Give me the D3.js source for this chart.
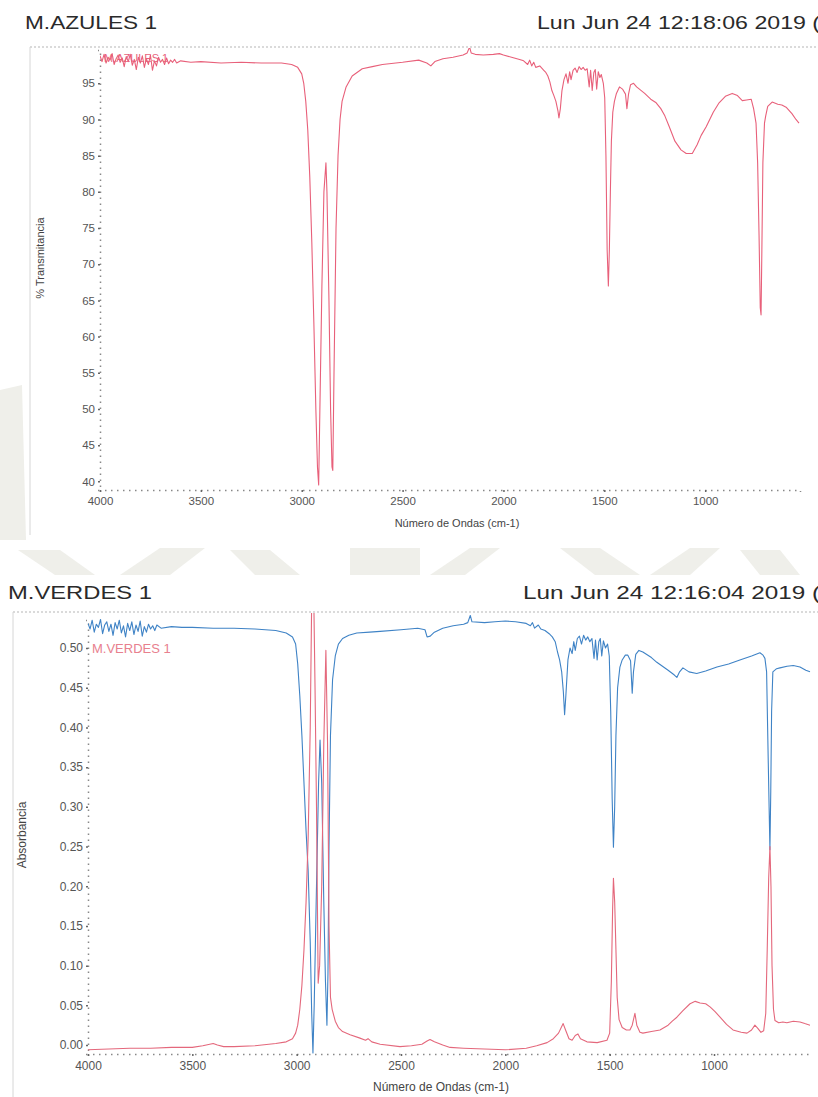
<!DOCTYPE html>
<html><head><meta charset="utf-8">
<script src="https://cdn.jsdelivr.net/npm/d3@7"></script>
<style>body{margin:0;background:#fff}svg{display:block}text{font-family:"Liberation Sans",Arial,sans-serif}</style>
</head><body><svg id="c" width="818" height="1097"></svg>
<script>
// ---------- DATA ----------
const topTitle = "M.AZULES 1";
const topDate = "Lun Jun 24 12:18:06 2019 (";
const botTitle = "M.VERDES 1";
const botDate = "Lun Jun 24 12:16:04 2019 (";
const xTicks = [4000, 3500, 3000, 2500, 2000, 1500, 1000];
const topYTicks = [40, 45, 50, 55, 60, 65, 70, 75, 80, 85, 90, 95];
const botYTicks = [0.00, 0.05, 0.10, 0.15, 0.20, 0.25, 0.30, 0.35, 0.40, 0.45, 0.50];

// M.AZULES 1 : % transmittance
const azulesWn = [4000,3990,3980,3970,3960,3950,3940,3930,3920,3910,3900,3890,3880,3870,3860,3850,3840,3830,3820,3810,3800,3790,3780,3770,3760,3750,3740,3730,3720,3710,3700,3690,3680,3670,3660,3650,3640,3630,3620,3600,3550,3500,3400,3300,3200,3100,3050,3020,3000,2990,2980,2970,2960,2950,2940,2930,2922,2916,2910,2900,2890,2880,2875,2865,2857,2850,2846,2840,2830,2820,2810,2800,2780,2750,2700,2650,2600,2500,2420,2380,2360,2340,2300,2250,2200,2180,2168,2160,2140,2100,2050,2020,2000,1960,1920,1900,1880,1870,1860,1850,1840,1820,1800,1790,1780,1770,1760,1750,1740,1730,1725,1718,1710,1700,1690,1680,1672,1665,1655,1645,1635,1625,1615,1605,1595,1585,1575,1568,1560,1552,1545,1538,1530,1522,1515,1505,1498,1492,1486,1480,1475,1470,1465,1458,1450,1440,1425,1410,1395,1388,1380,1370,1355,1340,1300,1270,1243,1220,1200,1178,1150,1120,1094,1064,1040,1020,995,960,931,900,866,840,816,795,772,760,748,740,733,727,723,719,714,706,700,690,668,640,620,599,570,550,535];
const azulesT = [98.8,98.0,99.0,97.8,98.6,98.2,99.1,97.6,98.4,98.9,97.9,98.5,97.3,98.7,98.0,99.0,97.5,98.3,96.9,98.6,97.8,98.8,97.2,98.4,97.6,98.9,96.8,98.1,97.4,98.6,97.9,98.3,97.6,98.5,97.7,98.2,97.9,98.3,97.8,98.1,97.9,98.0,97.8,97.9,97.8,97.8,97.6,97.2,96.3,95.0,92.5,88.5,82,73,62,50,42,39.5,50,67,80,84,80,65,50,42,41.5,55,75,85,90,92.5,94.5,96,97,97.3,97.6,97.9,98.2,97.8,97.4,98.0,98.4,98.6,98.9,99.2,100.0,99.2,99.0,98.9,99.0,99.1,98.9,98.6,98.3,98.1,97.6,98.2,97.4,97.9,97.2,97.4,96.8,96.5,96.0,95.2,94.0,93.3,92.5,91.2,90.2,91.5,94.0,95.5,96.3,95.0,96.6,95.5,96.8,97.1,96.5,97.3,96.9,97.2,96.8,97.0,94.5,96.8,94.0,96.5,96.9,94.2,96.6,95.8,96.2,95.0,93,85,72,67,72,80,87,91,92.5,93.6,94.5,94.2,93.5,91.5,93.5,94.8,95,94.5,93.6,92.8,92.3,91.5,90.5,89,87,85.8,85.3,85.3,86.5,87.8,89.0,91,92.3,93.2,93.6,93.3,92.6,92.7,92.8,91.5,89.5,84,74,64,63,72,84,89.5,90.5,91.8,92.4,92.1,92.0,91.7,90.8,90.0,89.5];

// M.VERDES 1 : absorbance (red)
const verdesWn = [4000,3900,3800,3700,3600,3500,3450,3400,3380,3350,3300,3200,3100,3050,3020,3005,2995,2985,2975,2965,2955,2945,2935,2928,2920,2912,2905,2897,2890,2880,2870,2860,2852,2845,2838,2830,2815,2800,2780,2744,2700,2670,2658,2640,2600,2505,2450,2400,2375,2361,2340,2300,2265,2200,2100,2000,1900,1850,1800,1770,1745,1723,1710,1695,1680,1665,1652,1640,1609,1560,1513,1500,1492,1486,1482,1476,1470,1464,1455,1440,1420,1403,1392,1379,1370,1355,1341,1300,1259,1220,1200,1178,1150,1115,1090,1067,1040,1019,995,971,940,909,870,842,820,804,790,775,762,752,745,738,732,727,722,715,708,690,670,651,620,588,565,540];
const verdesAbs = [-0.006,-0.005,-0.004,-0.004,-0.003,-0.003,-0.001,0.002,0.000,-0.002,-0.002,-0.001,0.002,0.004,0.008,0.015,0.025,0.045,0.075,0.12,0.18,0.26,0.40,0.56,0.60,0.45,0.30,0.078,0.10,0.2,0.38,0.497,0.38,0.15,0.06,0.045,0.03,0.022,0.017,0.013,0.009,0.006,0.008,0.004,0.001,-0.002,-0.001,0.001,0.005,0.007,0.004,0.000,-0.003,-0.004,-0.005,-0.006,-0.004,-0.001,0.003,0.008,0.015,0.027,0.018,0.008,0.006,0.012,0.014,0.008,0.004,0.003,0.006,0.015,0.08,0.17,0.21,0.18,0.12,0.06,0.032,0.022,0.019,0.019,0.025,0.040,0.025,0.016,0.015,0.017,0.019,0.025,0.030,0.035,0.043,0.052,0.055,0.053,0.052,0.048,0.042,0.035,0.026,0.019,0.016,0.015,0.019,0.025,0.021,0.016,0.018,0.04,0.12,0.21,0.25,0.20,0.10,0.045,0.031,0.028,0.029,0.028,0.030,0.029,0.027,0.025];

// M.VERDES 1 : second trace (blue), same axis units
const blueWn = [4000,3990,3980,3970,3960,3950,3940,3930,3920,3910,3900,3890,3880,3870,3860,3850,3840,3830,3820,3810,3800,3790,3780,3770,3760,3750,3740,3730,3720,3710,3700,3690,3680,3670,3650,3600,3550,3500,3400,3300,3200,3100,3050,3020,3005,2995,2985,2975,2965,2955,2945,2935,2928,2922,2916,2905,2895,2888,2880,2870,2862,2855,2850,2845,2838,2828,2815,2800,2780,2750,2712,2650,2600,2500,2420,2385,2375,2360,2340,2300,2250,2200,2180,2168,2160,2100,2050,2000,1951,1900,1880,1870,1860,1842,1830,1810,1790,1775,1761,1750,1740,1730,1722,1716,1710,1700,1690,1680,1672,1665,1655,1645,1635,1625,1615,1605,1595,1585,1575,1568,1560,1552,1545,1538,1530,1520,1510,1502,1495,1488,1482,1476,1470,1462,1451,1440,1425,1413,1400,1392,1386,1375,1360,1341,1300,1274,1220,1190,1178,1165,1149,1120,1083,1040,986,930,876,820,780,765,756,748,742,736,732,728,724,718,700,684,650,620,588,560,540];
const blueVal = [0.531,0.524,0.535,0.520,0.530,0.526,0.536,0.518,0.529,0.533,0.521,0.530,0.516,0.532,0.524,0.535,0.519,0.528,0.514,0.531,0.522,0.533,0.517,0.529,0.521,0.534,0.515,0.527,0.520,0.530,0.524,0.528,0.522,0.529,0.525,0.527,0.526,0.526,0.525,0.525,0.524,0.522,0.519,0.514,0.505,0.48,0.44,0.39,0.33,0.27,0.22,0.13,0.04,-0.01,0.05,0.20,0.33,0.384,0.33,0.18,0.08,0.025,0.09,0.25,0.39,0.46,0.49,0.505,0.512,0.516,0.519,0.520,0.521,0.523,0.525,0.523,0.514,0.515,0.520,0.525,0.528,0.530,0.532,0.541,0.533,0.532,0.533,0.534,0.533,0.531,0.528,0.532,0.525,0.529,0.524,0.522,0.518,0.514,0.508,0.495,0.485,0.470,0.445,0.416,0.44,0.485,0.500,0.493,0.508,0.497,0.512,0.515,0.505,0.516,0.510,0.514,0.508,0.512,0.487,0.510,0.485,0.508,0.512,0.490,0.509,0.500,0.505,0.49,0.42,0.31,0.249,0.30,0.39,0.45,0.476,0.485,0.491,0.491,0.484,0.443,0.47,0.492,0.497,0.495,0.488,0.482,0.472,0.466,0.463,0.470,0.475,0.470,0.468,0.471,0.476,0.480,0.485,0.490,0.494,0.491,0.487,0.47,0.384,0.30,0.246,0.32,0.42,0.47,0.474,0.475,0.477,0.478,0.476,0.472,0.470];

// ---------- DRAW ----------
const svg = d3.select("#c");
const zip = (a, b) => a.map((w, i) => [w, b[i]]);

// faint scan watermark band
const wm = svg.append("g").attr("fill", "#efefea");
[[[18,550],[60,550],[95,575],[55,575]],[[120,575],[160,548],[205,548],[170,575]],[[230,550],[270,550],[300,575],[255,575]],
 [[350,548],[420,548],[420,575],[350,575]],[[430,575],[470,548],[500,548],[465,575]],[[560,548],[600,548],[640,575],[595,575]],
 [[650,575],[690,548],[720,548],[690,575]],[[740,550],[780,550],[800,575],[760,575]],[[0,390],[22,385],[26,540],[0,540]]].forEach(p =>
  wm.append("polygon").attr("points", p.map(q => q.join(",")).join(" ")));

function panel(o) {
  const g = svg.append("g");
  // frame
  g.append("line").attr("x1", o.frameX).attr("x2", 818).attr("y1", o.frameY).attr("y2", o.frameY)
    .attr("stroke", "#b5b5b5").attr("stroke-dasharray", "2,2");
  g.append("line").attr("x1", o.frameX).attr("x2", o.frameX).attr("y1", o.frameY).attr("y2", o.frameBottom)
    .attr("stroke", "#d6d6d6");
  // titles
  g.append("text").attr("x", o.titleX).attr("y", o.titleY).attr("font-size", 19).attr("fill", "#2a2a2a")
    .attr("textLength", o.titleW).attr("lengthAdjust", "spacingAndGlyphs").text(o.title);
  g.append("text").attr("x", o.dateX).attr("y", o.titleY).attr("font-size", 19).attr("fill", "#2a2a2a")
    .attr("textLength", 818 - o.dateX + 2).attr("lengthAdjust", "spacingAndGlyphs").text(o.date);

  const x = o.x, y = o.y;
  const ax = g.append("g").attr("transform", `translate(0,${y.range()[0]})`)
    .call(d3.axisBottom(x).tickValues(xTicks).tickSize(2).tickPadding(5).tickFormat(d3.format("d")));
  const ay = g.append("g").attr("transform", `translate(${x.range()[0]},0)`)
    .call(d3.axisLeft(y).tickValues(o.yTicks).tickSize(2).tickPadding(3).tickFormat(o.yFmt));
  [ax, ay].forEach(a => {
    a.select(".domain").attr("stroke", "#888").attr("stroke-dasharray", "1.5,4.5").attr("stroke-width", 1.5);
    a.selectAll(".tick line").attr("stroke", "#666").attr("stroke-width", 1.5);
    a.selectAll(".tick text").attr("fill", "#555").attr("font-size", o.tickFs)
      .attr("font-family", '"Liberation Sans",Arial,sans-serif');
  });
  g.append("text").attr("x", o.xLabelX).attr("y", o.xLabelY).attr("text-anchor", "middle")
    .attr("font-size", o.labelFs).attr("fill", "#444").text("Número de Ondas (cm-1)");
  g.append("text").attr("transform", `translate(${o.yLabelX},${o.yLabelY}) rotate(-90)`).attr("text-anchor", "middle")
    .attr("font-size", o.labelFs).attr("fill", "#444").text(o.yLabel);

  const cid = "clip" + o.id;
  svg.append("clipPath").attr("id", cid).append("rect")
    .attr("x", x.range()[0]).attr("y", o.frameY + 1).attr("width", x.range()[1] - x.range()[0] + 2)
    .attr("height", y.range()[0] - o.frameY + 4);
  const plot = g.append("g").attr("clip-path", `url(#${cid})`);
  const line = d3.line().x(d => x(d[0])).y(d => y(d[1]));
  o.series.forEach(s => plot.append("path").datum(s.data).attr("d", line)
    .attr("fill", "none").attr("stroke", s.color).attr("stroke-width", 1.1).attr("stroke-linejoin", "round"));
  g.append("text").attr("x", o.legX).attr("y", o.legY).attr("font-size", o.legFs)
    .attr("fill", o.legColor).text(o.title);
}

panel({
  id: "top", title: topTitle, date: topDate, titleX: 25, titleY: 29, titleW: 132, dateX: 537,
  frameX: 30, frameY: 47, frameBottom: 535,
  x: d3.scaleLinear().domain([4000, 530]).range([100, 800]),
  y: d3.scaleLinear().domain([38.8, 99.6]).range([490, 50]),
  yTicks: topYTicks, yFmt: d3.format("d"), tickFs: 11.5, labelFs: 11,
  xLabelX: 457, xLabelY: 527, yLabel: "% Transmitancia", yLabelX: 44, yLabelY: 258,
  series: [{ data: zip(azulesWn, azulesT), color: "#e8607a" }],
  legX: 104, legY: 62, legFs: 11, legColor: "#e8607a"
});

panel({
  id: "bot", title: botTitle, date: botDate, titleX: 8, titleY: 599, titleW: 144, dateX: 523,
  frameX: 13, frameY: 612, frameBottom: 1097,
  x: d3.scaleLinear().domain([4000, 540]).range([88, 810]),
  y: d3.scaleLinear().domain([-0.0113, 0.5353]).range([1054, 620]),
  yTicks: botYTicks, yFmt: d3.format(".2f"), tickFs: 12, labelFs: 12,
  xLabelX: 441, xLabelY: 1091, yLabel: "Absorbancia", yLabelX: 26, yLabelY: 835,
  series: [{ data: zip(blueWn, blueVal), color: "#3f83c6" }, { data: zip(verdesWn, verdesAbs), color: "#e4687c" }],
  legX: 92, legY: 653, legFs: 13, legColor: "#e8808e"
});
</script></body></html>
